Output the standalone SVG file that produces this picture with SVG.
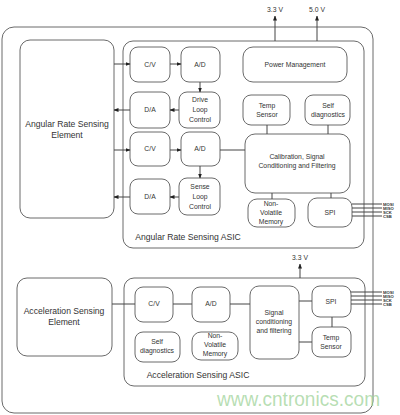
<svg xmlns="http://www.w3.org/2000/svg" width="400" height="415" viewBox="0 0 400 415">
<defs>
<marker id="ah" viewBox="0 0 10 10" refX="9" refY="5" markerWidth="5" markerHeight="5" orient="auto">
<path d="M0,1 L10,5 L0,9 z" fill="#222"/>
</marker>
<style>
.box{fill:#fff;stroke:#6a6a6a;stroke-width:1}
.frame{fill:none;stroke:#6a6a6a;stroke-width:1}
.ln{fill:none;stroke:#444;stroke-width:1}
.ar{fill:none;stroke:#444;stroke-width:1;marker-end:url(#ah)}
text{font-family:"Liberation Sans",Arial,sans-serif;fill:#333;text-anchor:middle}
.t{font-size:6.8px}
.big{font-size:8.6px}
.pin{font-size:4.2px;font-weight:bold;text-anchor:start}
.wm{font-size:21px;fill:#9fd39a;fill-opacity:0.75;text-anchor:start}
</style>
</defs>
<rect width="400" height="415" fill="#fff"/>
<rect id="outer" class="frame" x="2" y="27" width="371" height="386" rx="12"/>

<g id="angular-element"><rect class="box" x="20" y="40" width="94" height="178" rx="10"/>
<text class="big" x="67" y="127">Angular Rate Sensing</text><text class="big" x="67" y="138">Element</text></g>

<g id="angular-asic"><rect class="frame" x="123" y="41" width="241" height="207" rx="10"/>
<text class="big" x="188" y="240">Angular Rate Sensing ASIC</text></g>

<g id="cv1"><rect class="box" x="130" y="47" width="40" height="35" rx="8"/><text class="t" x="150" y="67">C/V</text></g>
<g id="ad1"><rect class="box" x="181" y="47" width="39" height="35" rx="8"/><text class="t" x="200" y="67">A/D</text></g>
<g id="da1"><rect class="box" x="130" y="92" width="40" height="36" rx="8"/><text class="t" x="150" y="112">D/A</text></g>
<g id="drive"><rect class="box" x="179" y="92" width="41" height="36" rx="8"/><text class="t" x="200" y="102">Drive</text><text class="t" x="200" y="112">Loop</text><text class="t" x="200" y="122">Control</text></g>
<g id="cv2"><rect class="box" x="130" y="132" width="40" height="34" rx="8"/><text class="t" x="150" y="151">C/V</text></g>
<g id="ad2"><rect class="box" x="181" y="132" width="39" height="34" rx="8"/><text class="t" x="200" y="151">A/D</text></g>
<g id="da2"><rect class="box" x="130" y="179" width="40" height="35" rx="8"/><text class="t" x="150" y="199">D/A</text></g>
<g id="sense"><rect class="box" x="179" y="178" width="41" height="37" rx="8"/><text class="t" x="200" y="189">Sense</text><text class="t" x="200" y="199">Loop</text><text class="t" x="200" y="209">Control</text></g>
<g id="power"><rect class="box" x="243" y="47" width="104" height="35" rx="10"/><text class="t" x="295" y="67">Power Management</text></g>
<g id="temp1"><rect class="box" x="243" y="95" width="47" height="30" rx="8"/><text class="t" x="267" y="108">Temp</text><text class="t" x="267" y="117">Sensor</text></g>
<g id="selfdiag1"><rect class="box" x="305" y="95" width="45" height="30" rx="8"/><text class="t" x="328" y="108">Self</text><text class="t" x="328" y="117">diagnostics</text></g>
<g id="calib"><rect class="box" x="245" y="134" width="105" height="59" rx="10"/><text class="t" x="297" y="159">Calibration, Signal</text><text class="t" x="297" y="168">Conditioning and Filtering</text></g>
<g id="nvm1"><rect class="box" x="248" y="199" width="47" height="28" rx="9"/><text class="t" x="271" y="206">Non-</text><text class="t" x="271" y="215">Volatile</text><text class="t" x="271" y="224">Memory</text></g>
<g id="spi1"><rect class="box" x="308" y="198" width="44" height="29" rx="9"/><text class="t" x="330" y="215">SPI</text></g>

<g id="accel-element"><rect class="box" x="17" y="278" width="95" height="78" rx="10"/>
<text class="big" x="64" y="314">Acceleration Sensing</text><text class="big" x="64" y="325">Element</text></g>
<g id="accel-asic"><rect class="frame" x="124" y="278" width="241" height="108" rx="10"/>
<text class="big" x="198" y="378">Acceleration Sensing ASIC</text></g>
<g id="cv3"><rect class="box" x="135" y="287" width="38" height="35" rx="8"/><text class="t" x="154" y="306">C/V</text></g>
<g id="ad3"><rect class="box" x="192" y="287" width="38" height="35" rx="8"/><text class="t" x="211" y="306">A/D</text></g>
<g id="signal"><rect class="box" x="250" y="286" width="49" height="73" rx="9"/><text class="t" x="274" y="315">Signal</text><text class="t" x="274" y="324">conditioning</text><text class="t" x="274" y="333">and filtering</text></g>
<g id="spi2"><rect class="box" x="312" y="286" width="39" height="31" rx="8"/><text class="t" x="331" y="304">SPI</text></g>
<g id="temp2"><rect class="box" x="312" y="327" width="39" height="30" rx="8"/><text class="t" x="331" y="340">Temp</text><text class="t" x="331" y="349">Sensor</text></g>
<g id="selfdiag2"><rect class="box" x="135" y="332" width="45" height="30" rx="8"/><text class="t" x="157" y="344">Self</text><text class="t" x="157" y="353">diagnostics</text></g>
<g id="nvm2"><rect class="box" x="192" y="332" width="46" height="28" rx="9"/><text class="t" x="215" y="338">Non-</text><text class="t" x="215" y="347">Volatile</text><text class="t" x="215" y="356">Memory</text></g>

<g id="connectors">
<path class="ar" d="M114,64 H130"/>
<path class="ar" d="M170,64 H181"/>
<path class="ar" d="M200,82 V92"/>
<path class="ar" d="M179,110 H170"/>
<path class="ar" d="M130,110 H114"/>
<path class="ar" d="M114,150 H130"/>
<path class="ar" d="M170,150 H181"/>
<path class="ar" d="M200,166 V178"/>
<path class="ar" d="M179,197 H170"/>
<path class="ar" d="M130,197 H114"/>
<path class="ln" d="M220,150 H245"/>
<path class="ln" d="M267,125 V134"/>
<path class="ln" d="M328,125 V134"/>
<path class="ln" d="M272,193 V199"/>
<path class="ln" d="M331,193 V198"/>
<path class="ar" d="M275,41 V16"/>
<path class="ar" d="M317,41 V16"/>
<path class="ln" d="M352,204 H382 M352,208 H382 M352,212 H382 M352,216 H382"/>
<path class="ar" d="M300,278 V264"/>
<path class="ln" d="M112,304 H135"/>
<path class="ln" d="M173,304 H192"/>
<path class="ln" d="M230,304 H250"/>
<path class="ln" d="M299,301 H312"/>
<path class="ln" d="M299,342 H312"/>
<path class="ln" d="M332,317 V327"/>
<path class="ln" d="M351,292 H382 M351,296 H382 M351,300 H382 M351,304 H382"/>
</g>

<g id="labels">
<text class="t" x="275" y="12">3.3 V</text>
<text class="t" x="317" y="12">5.0 V</text>
<text class="t" x="300" y="260">3.3 V</text>
<text class="pin" x="383" y="205.5">MOSI</text>
<text class="pin" x="383" y="209.5">MISO</text>
<text class="pin" x="383" y="213.5">SCK</text>
<text class="pin" x="383" y="217.5">CSB</text>
<text class="pin" x="383" y="293.5">MOSI</text>
<text class="pin" x="383" y="297.5">MISO</text>
<text class="pin" x="383" y="301.5">SCK</text>
<text class="pin" x="383" y="305.5">CSB</text>
<text class="wm" x="217" y="406" textLength="163" lengthAdjust="spacingAndGlyphs">www.cntronics.com</text>
</g>
</svg>
